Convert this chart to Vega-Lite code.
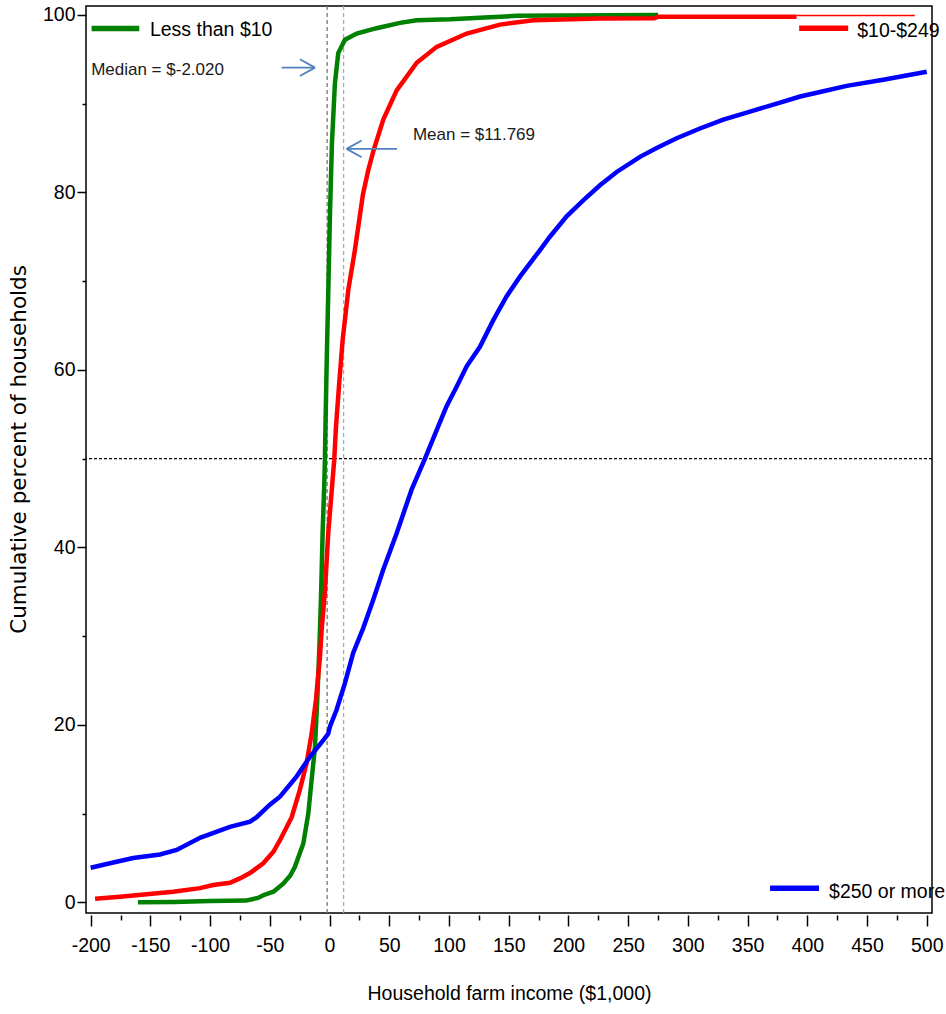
{
  "$schema": "https://vega.github.io/schema/vega-lite/v6.json",
  "width": 846,
  "height": 907,
  "autosize": {"type": "none"},
  "padding": {"left": 86, "top": 6, "right": 14, "bottom": 101},
  "background": "white",
  "config": {
    "view": {"stroke": "black", "strokeWidth": 1.5},
    "axis": {
      "domain": false,
      "grid": false,
      "tickColor": "black",
      "tickWidth": 1.5,
      "labelColor": "black",
      "labelFont": "Liberation Sans, Arial, sans-serif",
      "labelFontSize": 19.5,
      "labelOverlap": false,
      "labelFlush": false,
      "titleColor": "black",
      "titleFontWeight": "normal"
    }
  },
  "datasets": {
    "curves": [
      {"group": "Less than $10", "income": -160.4, "pct": 0.0},
      {"group": "Less than $10", "income": -130, "pct": 0.05},
      {"group": "Less than $10", "income": -100, "pct": 0.15},
      {"group": "Less than $10", "income": -70, "pct": 0.2},
      {"group": "Less than $10", "income": -60, "pct": 0.5},
      {"group": "Less than $10", "income": -55.5, "pct": 0.8},
      {"group": "Less than $10", "income": -47, "pct": 1.2},
      {"group": "Less than $10", "income": -38.8, "pct": 2.1},
      {"group": "Less than $10", "income": -33, "pct": 3.0},
      {"group": "Less than $10", "income": -29, "pct": 4.0},
      {"group": "Less than $10", "income": -25, "pct": 5.5},
      {"group": "Less than $10", "income": -22, "pct": 6.6},
      {"group": "Less than $10", "income": -17.8, "pct": 10.0},
      {"group": "Less than $10", "income": -15, "pct": 13.8},
      {"group": "Less than $10", "income": -12.2, "pct": 17.5},
      {"group": "Less than $10", "income": -10.3, "pct": 22.8},
      {"group": "Less than $10", "income": -8.6, "pct": 28.4},
      {"group": "Less than $10", "income": -7.2, "pct": 34.1},
      {"group": "Less than $10", "income": -5.8, "pct": 41.6},
      {"group": "Less than $10", "income": -4.4, "pct": 47.2},
      {"group": "Less than $10", "income": -3.9, "pct": 49.8},
      {"group": "Less than $10", "income": -3.3, "pct": 54.4},
      {"group": "Less than $10", "income": -2.4, "pct": 60.7},
      {"group": "Less than $10", "income": -1.1, "pct": 68.6},
      {"group": "Less than $10", "income": 0.3, "pct": 77.3},
      {"group": "Less than $10", "income": 2.0, "pct": 85.5},
      {"group": "Less than $10", "income": 4.5, "pct": 92.3},
      {"group": "Less than $10", "income": 7.3, "pct": 95.7},
      {"group": "Less than $10", "income": 12.9, "pct": 97.2},
      {"group": "Less than $10", "income": 22.7, "pct": 97.9},
      {"group": "Less than $10", "income": 39.4, "pct": 98.5},
      {"group": "Less than $10", "income": 59, "pct": 99.1},
      {"group": "Less than $10", "income": 73, "pct": 99.4},
      {"group": "Less than $10", "income": 101, "pct": 99.5},
      {"group": "Less than $10", "income": 130, "pct": 99.7},
      {"group": "Less than $10", "income": 157, "pct": 99.9},
      {"group": "Less than $10", "income": 275, "pct": 100},
      {"group": "$10-$249", "income": -196.3, "pct": 0.4},
      {"group": "$10-$249", "income": -175.5, "pct": 0.63},
      {"group": "$10-$249", "income": -153, "pct": 0.9},
      {"group": "$10-$249", "income": -131, "pct": 1.2},
      {"group": "$10-$249", "income": -108.5, "pct": 1.6},
      {"group": "$10-$249", "income": -97.4, "pct": 1.95},
      {"group": "$10-$249", "income": -83.4, "pct": 2.2},
      {"group": "$10-$249", "income": -75, "pct": 2.7},
      {"group": "$10-$249", "income": -66.6, "pct": 3.3},
      {"group": "$10-$249", "income": -55.5, "pct": 4.4},
      {"group": "$10-$249", "income": -47, "pct": 5.7},
      {"group": "$10-$249", "income": -41.5, "pct": 7.0},
      {"group": "$10-$249", "income": -31.7, "pct": 9.6},
      {"group": "$10-$249", "income": -24.8, "pct": 12.7},
      {"group": "$10-$249", "income": -19.2, "pct": 15.7},
      {"group": "$10-$249", "income": -15, "pct": 19},
      {"group": "$10-$249", "income": -11.4, "pct": 22.8},
      {"group": "$10-$249", "income": -8, "pct": 27.7},
      {"group": "$10-$249", "income": -6.6, "pct": 30.7},
      {"group": "$10-$249", "income": -3.9, "pct": 35},
      {"group": "$10-$249", "income": -1.1, "pct": 41.6},
      {"group": "$10-$249", "income": 2.3, "pct": 47.2},
      {"group": "$10-$249", "income": 3.9, "pct": 49.8},
      {"group": "$10-$249", "income": 5.4, "pct": 53.6},
      {"group": "$10-$249", "income": 8.1, "pct": 58.5},
      {"group": "$10-$249", "income": 11, "pct": 63.4},
      {"group": "$10-$249", "income": 15.7, "pct": 69.0},
      {"group": "$10-$249", "income": 21, "pct": 73.3},
      {"group": "$10-$249", "income": 28, "pct": 79.8},
      {"group": "$10-$249", "income": 32.4, "pct": 82.5},
      {"group": "$10-$249", "income": 37, "pct": 84.8},
      {"group": "$10-$249", "income": 45, "pct": 88.2},
      {"group": "$10-$249", "income": 56.2, "pct": 91.5},
      {"group": "$10-$249", "income": 73, "pct": 94.6},
      {"group": "$10-$249", "income": 89.7, "pct": 96.4},
      {"group": "$10-$249", "income": 114.8, "pct": 97.9},
      {"group": "$10-$249", "income": 142.7, "pct": 98.9},
      {"group": "$10-$249", "income": 170.6, "pct": 99.4},
      {"group": "$10-$249", "income": 226, "pct": 99.6},
      {"group": "$10-$249", "income": 272, "pct": 99.62},
      {"group": "$10-$249", "income": 275, "pct": 99.8},
      {"group": "$10-$249", "income": 391, "pct": 99.8},
      {"group": "$250 or more", "income": -200, "pct": 3.9},
      {"group": "$250 or more", "income": -183.8, "pct": 4.4},
      {"group": "$250 or more", "income": -164.4, "pct": 5.0},
      {"group": "$250 or more", "income": -142, "pct": 5.4},
      {"group": "$250 or more", "income": -128, "pct": 5.9},
      {"group": "$250 or more", "income": -108, "pct": 7.3},
      {"group": "$250 or more", "income": -83.4, "pct": 8.5},
      {"group": "$250 or more", "income": -66.5, "pct": 9.1},
      {"group": "$250 or more", "income": -61, "pct": 9.6},
      {"group": "$250 or more", "income": -50, "pct": 11},
      {"group": "$250 or more", "income": -41.5, "pct": 11.9},
      {"group": "$250 or more", "income": -27.5, "pct": 14.2},
      {"group": "$250 or more", "income": -16.4, "pct": 16.4},
      {"group": "$250 or more", "income": -5, "pct": 18.3},
      {"group": "$250 or more", "income": -1.1, "pct": 19.0},
      {"group": "$250 or more", "income": 0.3, "pct": 19.8},
      {"group": "$250 or more", "income": 5.9, "pct": 21.7},
      {"group": "$250 or more", "income": 12.9, "pct": 24.7},
      {"group": "$250 or more", "income": 19.8, "pct": 28.1},
      {"group": "$250 or more", "income": 28.2, "pct": 30.9},
      {"group": "$250 or more", "income": 36.6, "pct": 34.1},
      {"group": "$250 or more", "income": 45, "pct": 37.5},
      {"group": "$250 or more", "income": 56.2, "pct": 41.6},
      {"group": "$250 or more", "income": 68.7, "pct": 46.5},
      {"group": "$250 or more", "income": 79.9, "pct": 50},
      {"group": "$250 or more", "income": 89.7, "pct": 53.2},
      {"group": "$250 or more", "income": 98, "pct": 55.9},
      {"group": "$250 or more", "income": 106.4, "pct": 58.1},
      {"group": "$250 or more", "income": 114.8, "pct": 60.4},
      {"group": "$250 or more", "income": 125.9, "pct": 62.6},
      {"group": "$250 or more", "income": 137.1, "pct": 65.6},
      {"group": "$250 or more", "income": 148.3, "pct": 68.3},
      {"group": "$250 or more", "income": 159.4, "pct": 70.5},
      {"group": "$250 or more", "income": 176.2, "pct": 73.5},
      {"group": "$250 or more", "income": 184.5, "pct": 75.0},
      {"group": "$250 or more", "income": 198.5, "pct": 77.3},
      {"group": "$250 or more", "income": 212.4, "pct": 79.1},
      {"group": "$250 or more", "income": 226.4, "pct": 80.8},
      {"group": "$250 or more", "income": 240.4, "pct": 82.3},
      {"group": "$250 or more", "income": 259.9, "pct": 84.0},
      {"group": "$250 or more", "income": 273.9, "pct": 85.0},
      {"group": "$250 or more", "income": 290.6, "pct": 86.1},
      {"group": "$250 or more", "income": 310.1, "pct": 87.2},
      {"group": "$250 or more", "income": 329.7, "pct": 88.2},
      {"group": "$250 or more", "income": 352, "pct": 89.1},
      {"group": "$250 or more", "income": 374.4, "pct": 90.0},
      {"group": "$250 or more", "income": 394, "pct": 90.8},
      {"group": "$250 or more", "income": 413.4, "pct": 91.4},
      {"group": "$250 or more", "income": 433, "pct": 92.0},
      {"group": "$250 or more", "income": 463.6, "pct": 92.7},
      {"group": "$250 or more", "income": 500, "pct": 93.6}
    ],
    "tail": [
      {"group": "$10-$249", "x1": 391, "x2": 490, "y": 99.93}
    ],
    "refs": [
      {"stat": "Median", "value": -2.02},
      {"stat": "Mean", "value": 11.769},
      {"stat": "Half", "value": 50}
    ],
    "legend": [
      {"group": "Less than $10", "x1": -199.2, "x2": -159.3, "y": 98.46, "tx": -150.4, "ty": 98.3},
      {"group": "$10-$249", "x1": 393.2, "x2": 434.2, "y": 98.5, "tx": 441.8, "ty": 98.2},
      {"group": "$250 or more", "x1": 368.8, "x2": 409.8, "y": 1.58, "tx": 418.2, "ty": 1.2}
    ],
    "notes": [
      {"label": "Median = $-2.020", "x": -199.6, "y": 93.84},
      {"label": "Mean = $11.769", "x": 69.8, "y": 86.5}
    ],
    "arrows": [
      {"x": -40.1, "y": 94.06, "x2": -12.2, "y2": 94.06},
      {"x": -24.8, "y": 95.0, "x2": -12.2, "y2": 94.06},
      {"x": -24.8, "y": 93.12, "x2": -12.2, "y2": 94.06},
      {"x": 14.3, "y": 84.9, "x2": 56.5, "y2": 84.9},
      {"x": 26.9, "y": 85.84, "x2": 14.3, "y2": 84.9},
      {"x": 26.9, "y": 83.96, "x2": 14.3, "y2": 84.9}
    ]
  },
  "resolve": {"axis": {"x": "independent", "y": "independent"}},
  "layer": [
    {
      "data": {"name": "refs"},
      "transform": [{"filter": "datum.stat === 'Half'"}],
      "mark": {"type": "rule", "color": "black", "strokeDash": [3, 2], "strokeWidth": 1.3},
      "encoding": {
        "y": {
          "field": "value", "type": "quantitative",
          "scale": {"domain": [-1.2, 101], "nice": false, "zero": false},
          "axis": {"orient": "left", "values": [10, 30, 50, 70, 90], "tickSize": 4, "labels": false, "title": null}
        }
      }
    },
    {
      "data": {"name": "refs"},
      "transform": [{"filter": "datum.stat === 'Median'"}],
      "mark": {"type": "rule", "color": "#777777", "strokeDash": [4, 3], "strokeWidth": 1.3},
      "encoding": {
        "x": {
          "field": "value", "type": "quantitative",
          "scale": {"domain": [-203.9, 504.4], "nice": false, "zero": false},
          "axis": {"orient": "bottom", "offset": 2, "values": [-175, -125, -75, -25, 25, 75, 125, 175, 225, 275, 325, 375, 425, 475], "tickSize": 5, "labels": false, "title": null}
        }
      }
    },
    {
      "data": {"name": "refs"},
      "transform": [{"filter": "datum.stat === 'Mean'"}],
      "mark": {"type": "rule", "color": "#aaaaaa", "strokeDash": [4, 3], "strokeWidth": 1.3},
      "encoding": {
        "x": {
          "field": "value", "type": "quantitative",
          "scale": {"domain": [-203.9, 504.4], "nice": false, "zero": false},
          "axis": null
        }
      }
    },
    {
      "data": {"name": "curves"},
      "mark": {"type": "line", "strokeWidth": 4.5, "interpolate": "linear"},
      "encoding": {
        "x": {
          "field": "income", "type": "quantitative",
          "scale": {"domain": [-203.9, 504.4], "nice": false, "zero": false},
          "axis": {
            "orient": "bottom", "offset": 2,
            "values": [-200, -150, -100, -50, 0, 50, 100, 150, 200, 250, 300, 350, 400, 450, 500],
            "labelExpr": "'' + datum.value",
            "tickSize": 11, "labelPadding": 10,
            "title": "Household farm income ($1,000)",
            "titleFont": "Liberation Sans, Arial, sans-serif",
            "titleFontSize": 19.5, "titlePadding": 30
          }
        },
        "y": {
          "field": "pct", "type": "quantitative",
          "scale": {"domain": [-1.2, 101], "nice": false, "zero": false},
          "axis": {
            "orient": "left",
            "values": [0, 20, 40, 60, 80, 100],
            "labelExpr": "'' + datum.value",
            "tickSize": 9, "labelPadding": 2,
            "title": "Cumulative percent of households",
            "titleFont": "DejaVu Sans", "titleFontSize": 21.5, "titlePadding": 12,
            "titleY": 443
          }
        },
        "color": {
          "field": "group", "type": "nominal",
          "scale": {"domain": ["Less than $10", "$10-$249", "$250 or more"], "range": ["#008000", "#ff0000", "#0000ff"]},
          "legend": null
        }
      }
    },
    {
      "data": {"name": "tail"},
      "mark": {"type": "rule", "strokeWidth": 1.5},
      "encoding": {
        "x": {"field": "x1", "type": "quantitative", "scale": {"domain": [-203.9, 504.4], "nice": false, "zero": false}, "axis": null},
        "x2": {"field": "x2"},
        "y": {"field": "y", "type": "quantitative", "scale": {"domain": [-1.2, 101], "nice": false, "zero": false}, "axis": null},
        "color": {"field": "group", "type": "nominal", "legend": null}
      }
    },
    {
      "data": {"name": "legend"},
      "mark": {"type": "rule", "strokeWidth": 5.5},
      "encoding": {
        "x": {"field": "x1", "type": "quantitative", "scale": {"domain": [-203.9, 504.4], "nice": false, "zero": false}, "axis": null},
        "x2": {"field": "x2"},
        "y": {"field": "y", "type": "quantitative", "scale": {"domain": [-1.2, 101], "nice": false, "zero": false}, "axis": null},
        "color": {"field": "group", "type": "nominal", "legend": null}
      }
    },
    {
      "data": {"name": "legend"},
      "mark": {"type": "text", "align": "left", "baseline": "middle", "font": "Liberation Sans, Arial, sans-serif", "fontSize": 19.5, "color": "black"},
      "encoding": {
        "x": {"field": "tx", "type": "quantitative", "scale": {"domain": [-203.9, 504.4], "nice": false, "zero": false}, "axis": null},
        "y": {"field": "ty", "type": "quantitative", "scale": {"domain": [-1.2, 101], "nice": false, "zero": false}, "axis": null},
        "text": {"field": "group"}
      }
    },
    {
      "data": {"name": "notes"},
      "mark": {"type": "text", "align": "left", "baseline": "middle", "font": "Liberation Sans, Arial, sans-serif", "fontSize": 17, "color": "#1a1a1a"},
      "encoding": {
        "x": {"field": "x", "type": "quantitative", "scale": {"domain": [-203.9, 504.4], "nice": false, "zero": false}, "axis": null},
        "y": {"field": "y", "type": "quantitative", "scale": {"domain": [-1.2, 101], "nice": false, "zero": false}, "axis": null},
        "text": {"field": "label"}
      }
    },
    {
      "data": {"name": "arrows"},
      "mark": {"type": "rule", "color": "#4f81bd", "strokeWidth": 1.8},
      "encoding": {
        "x": {"field": "x", "type": "quantitative", "scale": {"domain": [-203.9, 504.4], "nice": false, "zero": false}, "axis": null},
        "y": {"field": "y", "type": "quantitative", "scale": {"domain": [-1.2, 101], "nice": false, "zero": false}, "axis": null},
        "x2": {"field": "x2"},
        "y2": {"field": "y2"}
      }
    }
  ]
}
